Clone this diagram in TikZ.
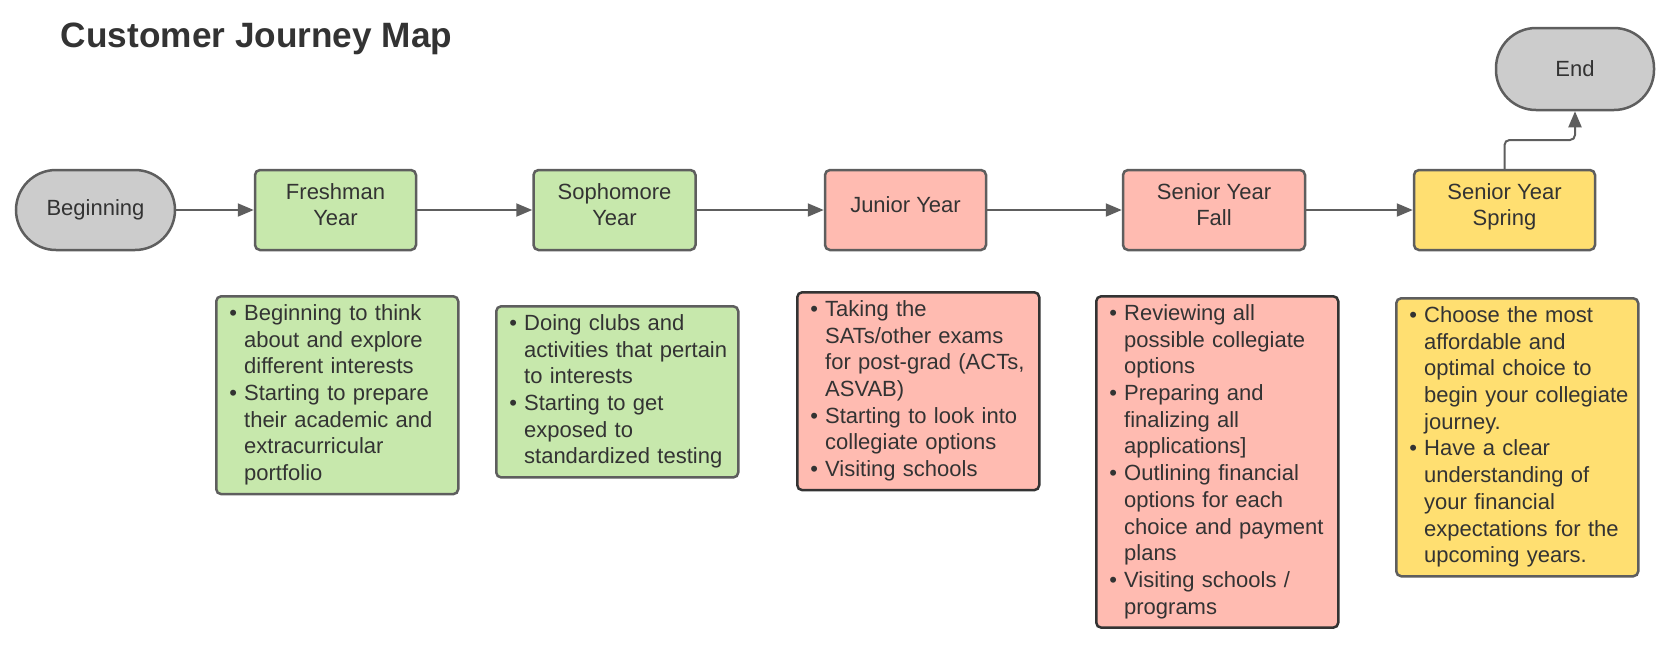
\documentclass[tikz,border=0pt]{standalone}
\usepackage{fontspec}
\setmainfont{Liberation Sans}
\usepackage{xcolor}
\definecolor{stepgreen}{HTML}{C7E8AC}
\definecolor{steprose}{HTML}{FFBBB1}
\definecolor{stepgold}{HTML}{FFDF71}
\definecolor{stepgray}{HTML}{CCCCCC}
\definecolor{edge}{HTML}{5E5E5E}
\definecolor{ink}{HTML}{333333}
\usepackage{tikz}
\usetikzlibrary{arrows.meta,positioning}
\newcommand{\drw}[2]{\draw[->] (#1) -- (#2)}
\newcommand{\blt}{\textbullet}
\newcommand{\stepfont}{\fontsize{11}{13}\selectfont}
\newcommand{\notefont}{\fontsize{11}{13.35}\selectfont}

\begin{document}
\begin{tikzpicture}[
      x=0.5pt,y=-0.5pt,
      >={Triangle[length=8pt,width=6.5pt]},
      line width=1pt,draw=edge,
      terminal/.style={rectangle,rounded corners=20pt,minimum width=79.5pt,minimum height=40pt,line width=1.25pt,draw=edge,fill=stepgray,text=ink,font=\stepfont},
      stage/.style={rectangle,rounded corners=2.5pt,minimum height=40pt,text depth=5.5pt,line width=1.25pt,draw=edge,text=ink,align=center,font=\stepfont},
      notes/.style={rectangle,rounded corners=2.5pt,anchor=north west,text width=108pt,inner xsep=6.5pt,inner ysep=2.75pt,line width=1.25pt,draw=edge,text=ink,align=left,font=\notefont}]

      \useasboundingbox (0,0) rectangle (1666,650);

      % Title
      \node[anchor=base west,inner sep=0pt,text=ink,font=\fontsize{17.6}{20}\selectfont\bfseries] (title) at (60,47) {Customer Journey Map};

      % Define nodes
      \node[terminal] (begin) at (95.5,210) {Beginning};
      \node[stage,fill=stepgreen,minimum width=80.5pt,right=38.75pt of begin] (fresh) {Freshman\\Year};
      \node[stage,fill=stepgreen,minimum width=81pt,right=57.5pt of fresh] (soph) {Sophomore\\Year};
      \node[stage,fill=steprose,minimum width=80.5pt,right=63.5pt of soph] (junior) {Junior Year};
      \node[stage,fill=steprose,minimum width=91pt,right=67.25pt of junior] (fall) {Senior Year\\Fall};
      \node[stage,fill=stepgold,minimum width=90.5pt,right=53.25pt of fall] (spring) {Senior Year\\Spring};
      \node[terminal,minimum width=79pt,minimum height=41pt] (end) at (1575,69) {End};

      % Notes under each stage
      \node[notes,fill=stepgreen] (freshnotes) at (215,295) {%
        \begin{tabular}{@{}l@{\hspace{3.6pt}}l@{}}
        \blt & Beginning to think\\
             & about and explore\\
             & different interests\\
        \blt & Starting to prepare\\
             & their academic and\\
             & extracurricular\\
             & portfolio
        \end{tabular}};
      \node[notes,fill=stepgreen] (sophnotes) at (495,305) {%
        \begin{tabular}{@{}l@{\hspace{3.6pt}}l@{}}
        \blt & Doing clubs and\\
             & activities that pertain\\
             & to interests\\
        \blt & Starting to get\\
             & exposed to\\
             & standardized testing
        \end{tabular}};
      \node[notes,fill=steprose,draw=ink] (juniornotes) at (796,291) {%
        \begin{tabular}{@{}l@{\hspace{3.6pt}}l@{}}
        \blt & Taking the\\
             & SATs/other exams\\
             & for post-grad (ACTs,\\
             & ASVAB)\\
        \blt & Starting to look into\\
             & collegiate options\\
        \blt & Visiting schools
        \end{tabular}};
      \node[notes,fill=steprose,draw=ink] (fallnotes) at (1095,295) {%
        \begin{tabular}{@{}l@{\hspace{3.6pt}}l@{}}
        \blt & Reviewing all\\
             & possible collegiate\\
             & options\\
        \blt & Preparing and\\
             & finalizing all\\
             & applications]\\
        \blt & Outlining financial\\
             & options for each\\
             & choice and payment\\
             & plans\\
        \blt & Visiting schools /\\
             & programs
        \end{tabular}};
      \node[notes,fill=stepgold] (springnotes) at (1395,297) {%
        \begin{tabular}{@{}l@{\hspace{3.6pt}}l@{}}
        \blt & Choose the most\\
             & affordable and\\
             & optimal choice to\\
             & begin your collegiate\\
             & journey.\\
        \blt & Have a clear\\
             & understanding of\\
             & your financial\\
             & expectations for the\\
             & upcoming years.
        \end{tabular}};

      % Draw paths
      \drw{begin}{fresh};
      \drw{fresh}{soph};
      \drw{soph}{junior};
      \drw{junior}{fall};
      \drw{fall}{spring};
      \coordinate (bend) at (1540,140);
      \draw[->,rounded corners=2.5pt] (spring.north) |- (bend) -| (end.south);

  \end{tikzpicture}
\end{document}
